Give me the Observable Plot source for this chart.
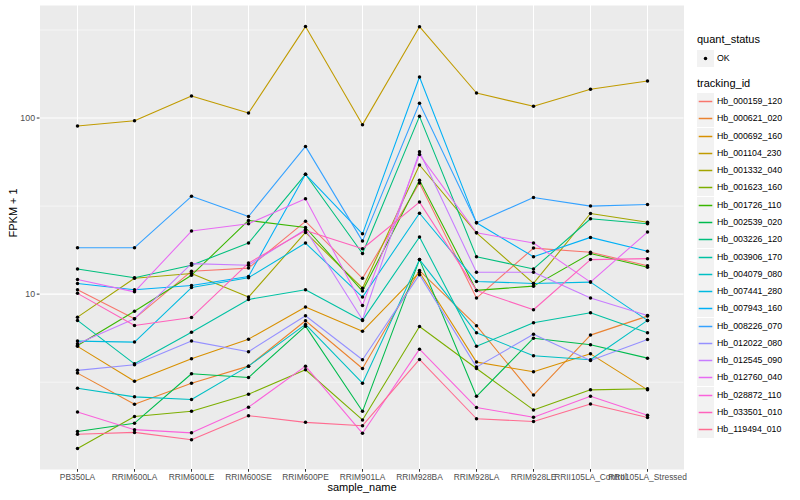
<!DOCTYPE html>
<html>
<head>
<meta charset="utf-8">
<script src="https://cdn.jsdelivr.net/npm/d3@7"></script>
<script src="https://cdn.jsdelivr.net/npm/@observablehq/plot@0.6"></script>
<style>
  html, body { margin: 0; padding: 0; background: #fff; }
  #wrap { position: relative; width: 800px; height: 500px; font-family: "Liberation Sans", Arial, Helvetica, sans-serif; }
  #chart { position: absolute; left: 0; top: 0; }
  #legend { position: absolute; left: 697px; top: 0; width: 103px; height: 500px; }
  .lt { position: absolute; left: 0; font-size: 11px; line-height: 11px; color: #000; white-space: nowrap; }
  .key { position: absolute; left: 0; width: 17px; height: 17px; }
  .kl { position: absolute; left: 20px; font-size: 8.8px; line-height: 17px; color: #000; white-space: nowrap; }
</style>
</head>
<body>
<div id="wrap"><div id="chart"></div><div id="legend"></div></div>
<script>
const samples = ["PB350LA","RRIM600LA","RRIM600LE","RRIM600SE","RRIM600PE","RRIM901LA","RRIM928BA","RRIM928LA","RRIM928LE","RRII105LA_Control","RRII105LA_Stressed"];

const trackingIds = ["Hb_000159_120","Hb_000621_020","Hb_000692_160","Hb_001104_230","Hb_001332_040","Hb_001623_160","Hb_001726_110","Hb_002539_020","Hb_003226_120","Hb_003906_170","Hb_004079_080","Hb_007441_280","Hb_007943_160","Hb_008226_070","Hb_012022_080","Hb_012545_090","Hb_012760_040","Hb_028872_110","Hb_033501_010","Hb_119494_010"];

const colors = ["#F8766D","#EA8331","#D89000","#C09B00","#A3A500","#7CAE00","#39B600","#00BB4E","#00BF7D","#00C1A3","#00BFC4","#00BAE0","#00B0F6","#35A2FF","#9590FF","#C77CFF","#E76BF3","#FA62DB","#FF62BC","#FF6C91"];

// FPKM + 1, one value per sample (same order as samples)
const s000159_120 = [10.6, 7.25, 13.5, 14.05, 25.9, 12.3, 42.7, 9.5, 18.25, 17.3, 14.5];
const s000621_020 = [3.56, 2.37, 3.12, 3.90, 7.06, 3.78, 13.6, 6.62, 2.67, 5.85, 7.50];
const s000692_160 = [5.05, 3.20, 4.30, 5.55, 8.44, 6.16, 13.3, 4.11, 3.62, 4.58, 2.86];
const s001104_230 = [90.1, 96.6, 133.4, 106.7, 330.5, 91.7, 330, 138.7, 116.5, 145.6, 162.3];
const s001332_040 = [7.40, 12.3, 13.1, 9.62, 22.4, 10.8, 54.1, 22.3, 11.5, 28.7, 25.6];
const s001623_160 = [1.33, 2.02, 2.16, 2.70, 3.72, 1.93, 6.55, 3.78, 2.20, 2.86, 2.90];
const s001726_110 = [5.11, 8.0, 12.8, 26.2, 23.9, 10.4, 44.3, 10.5, 11.1, 17.0, 14.2];
const s002539_020 = [1.66, 1.85, 3.53, 3.36, 6.58, 2.16, 15.7, 2.63, 5.62, 5.16, 4.33];
const s003226_120 = [13.9, 12.4, 14.6, 19.5, 47.9, 17.0, 102.2, 16.3, 13.9, 26.8, 25.1];
const s003906_170 = [7.09, 4.02, 6.08, 9.33, 10.6, 7.09, 21.1, 5.05, 6.88, 7.84, 6.03];
const s004079_080 = [2.92, 2.61, 2.52, 3.90, 6.73, 3.12, 15.7, 6.03, 4.47, 4.24, 7.09];
const s007441_280 = [5.41, 5.34, 10.9, 12.4, 19.5, 9.62, 28.8, 11.8, 11.5, 11.7, 7.09];
const s007943_160 = [11.5, 10.6, 11.2, 12.6, 47.9, 22.0, 171, 25.4, 16.3, 21.0, 17.5];
const s008226_070 = [18.35, 18.35, 35.9, 27.6, 69.0, 20.0, 121.2, 25.4, 35.4, 31.6, 32.3];
const s012022_080 = [3.69, 3.97, 5.41, 4.71, 7.54, 4.24, 12.9, 3.85, 5.92, 4.20, 5.53];
const s012545_090 = [5.23, 7.25, 14.9, 14.6, 23.3, 7.15, 64.4, 13.3, 13.3, 9.5, 7.57];
const s012760_040 = [12.1, 10.3, 22.8, 25.1, 34.8, 8.63, 62, 22.3, 19.5, 11.7, 22.5];
const s028872_110 = [2.14, 1.70, 1.63, 2.28, 3.90, 1.62, 4.87, 2.27, 2.00, 2.63, 2.05];
const s033501_010 = [10.1, 6.64, 7.37, 15.0, 23.0, 18.1, 33.3, 10.5, 8.15, 15.7, 15.9];
const s119494_010 = [1.60, 1.64, 1.49, 2.04, 1.87, 1.79, 4.26, 1.96, 1.89, 2.38, 1.99];

const seriesValues = [s000159_120, s000621_020, s000692_160, s001104_230, s001332_040, s001623_160, s001726_110, s002539_020, s003226_120, s003906_170, s004079_080, s007441_280, s007943_160, s008226_070, s012022_080, s012545_090, s012760_040, s028872_110, s033501_010, s119494_010];

const yTicks = [10, 100];
const yTickLabels = ["10", "100"];
const yMinor = [3.1623, 31.623, 316.23];

const data = [];
trackingIds.forEach((id, i) => {
  samples.forEach((s, j) => data.push({id, sample: s, value: seriesValues[i][j], status: "OK"}));
});

// ggplot-style 5% expansion in log space
const vmin = d3.min(data, d => d.value), vmax = d3.max(data, d => d.value);
const f = Math.pow(vmax / vmin, 0.05);
const yDomain = [vmin / f, vmax * f];

const chart = Plot.plot({
  width: 690,
  height: 500,
  marginLeft: 39.5,
  marginRight: 6.5,
  marginTop: 5,
  marginBottom: 31,
  style: {fontFamily: '"Liberation Sans", Arial, Helvetica, sans-serif', background: "#fff", overflow: "visible"},
  x: {type: "point", domain: samples, padding: 0.6},
  y: {type: "log", domain: yDomain},
  color: {domain: trackingIds, range: colors},
  marks: [
    Plot.frame({fill: "#EBEBEB", stroke: null}),
    Plot.ruleY(yMinor, {stroke: "#fff", strokeWidth: 0.53}),
    Plot.ruleY(yTicks, {stroke: "#fff", strokeWidth: 1.07}),
    Plot.ruleX(samples, {stroke: "#fff", strokeWidth: 1.07}),
    Plot.line(data, {x: "sample", y: "value", z: "id", stroke: "id", strokeWidth: 1.07}),
    Plot.dot(data, {x: "sample", y: "value", r: 1.75, fill: "#000", stroke: null}),
    Plot.axisY({ticks: yTicks, tickFormat: d => yTickLabels[yTicks.indexOf(d)], tickSize: 2.75, tickPadding: 2.2, fontSize: 8.8, stroke: "#333333", fill: "#4D4D4D", label: null}),
    Plot.axisX({tickSize: 2.75, tickPadding: 1.8, fontSize: 8.4, stroke: "#333333", fill: "#4D4D4D", label: null}),
    Plot.text(["sample_name"], {frameAnchor: "bottom", dy: 21, fontSize: 11, fill: "#000"}),
    Plot.text(["FPKM + 1"], {frameAnchor: "left", dx: -27, rotate: -90, fontSize: 11, fill: "#000"})
  ]
});
document.getElementById("chart").appendChild(chart);

// Legend (HTML, colours shared with the chart's colour scale)
const colorScale = chart.scale("color");
const legend = d3.select("#legend");
legend.append("div").attr("class", "lt").style("top", "33.5px").text("quant_status");
const k0 = legend.append("svg").attr("class", "key").attr("width", 17).attr("height", 17).style("top", "50px");
k0.append("rect").attr("width", 17).attr("height", 17).attr("fill", "#F2F2F2");
k0.append("circle").attr("cx", 8.5).attr("cy", 8.5).attr("r", 1.75).attr("fill", "#000");
legend.append("div").attr("class", "kl").style("top", "50px").text("OK");
legend.append("div").attr("class", "lt").style("top", "77.5px").text("tracking_id");
trackingIds.forEach((id, i) => {
  const top = Math.round(93 + i * 17.28);
  const k = legend.append("svg").attr("class", "key").attr("width", 17).attr("height", 17).style("top", top + "px");
  k.append("rect").attr("width", 17).attr("height", 17).attr("fill", "#F2F2F2");
  k.append("line").attr("x1", 1.7).attr("x2", 15.3).attr("y1", 8.5).attr("y2", 8.5)
    .attr("stroke", colorScale.apply(id)).attr("stroke-width", 1.5);
  legend.append("div").attr("class", "kl").style("top", top + "px").text(id);
});
</script>
</body>
</html>
